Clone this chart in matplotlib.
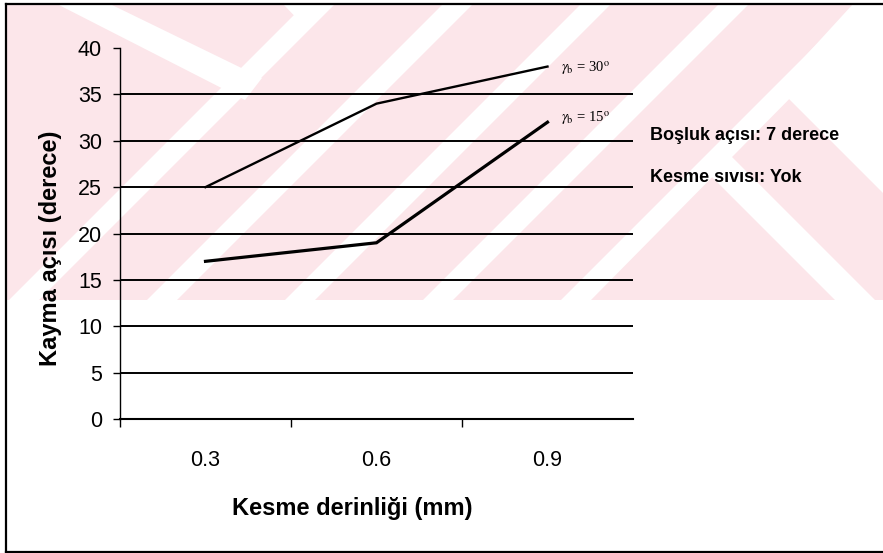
import matplotlib
matplotlib.use("Agg")
import matplotlib.pyplot as plt
from matplotlib.patches import Polygon
from matplotlib.lines import Line2D
import numpy as np

# ---- data ----
depths = ["0.3", "0.6", "0.9"]            # Kesme derinliği (mm)
shear_rake30 = [25, 34, 38]               # γb = 30°
shear_rake15 = [17, 19, 32]               # γb = 15°
y_ticks = [0, 5, 10, 15, 20, 25, 30, 35, 40]

W, H = 883, 553
fig = plt.figure(figsize=(W / 100, H / 100), dpi=100)
fig.patch.set_facecolor("white")

SANS = ["Liberation Sans", "DejaVu Sans"]
plt.rcParams["mathtext.fontset"] = "stix"


def fxy(x, y):
    """pixel position (origin top-left) -> figure fraction"""
    return (x / W, 1 - y / H)


# ---- faint background emblem ----
pink = "#fce6ea"
band_top, band_bot = 4, 300
fig.patches.append(Polygon([fxy(6, band_top), fxy(W, band_top), fxy(W, band_bot), fxy(6, band_bot)],
                           closed=True, transform=fig.transFigure, facecolor=pink,
                           edgecolor="none", zorder=0))
white_shapes = []
for c in [24, 162, 300, 438, 576]:
    dx = band_bot - band_top
    white_shapes.append([(c - 15, band_bot), (c + 15, band_bot),
                         (c + 15 + dx, band_top), (c - 15 + dx, band_top)])
white_shapes += [
    [(283, 4), (308, 30), (333, 4)],
    [(57, 4), (110, 4), (262, 78), (245, 100)],
    [(853, 4), (777, 87), (883, 193), (883, 4)],
    [(700, 165), (725, 150), (875, 300), (835, 300)],
]
for poly in white_shapes:
    pts = [fxy(max(6, min(W, x)), y) for x, y in poly]
    fig.patches.append(Polygon(pts, closed=True, transform=fig.transFigure,
                               facecolor="white", edgecolor="none", zorder=0.5))

# ---- outer frame (left, top, bottom) ----
for xs, ys in [((6, 6), (4, 552)), ((6, W), (4, 4)), ((6, W), (552, 552))]:
    p0, p1 = fxy(xs[0], ys[0]), fxy(xs[1], ys[1])
    fig.lines.append(Line2D([p0[0], p1[0]], [p0[1], p1[1]], transform=fig.transFigure,
                            color="black", lw=1.6, zorder=3))

# ---- chart ----
ax = fig.add_axes([120 / W, 1 - 419 / H, 513 / W, 371 / H])
ax.patch.set_alpha(0)
ax.set_zorder(2)
ax.set_xlim(0, len(depths))
ax.set_ylim(0, 40)

for v in y_ticks[1:-1]:
    ax.axhline(v, color="black", lw=1.4, zorder=1)

x = np.arange(len(depths)) + 0.5
ax.plot(x, shear_rake30, color="black", lw=1.7, zorder=3, solid_joinstyle="miter")
ax.plot(x, shear_rake15, color="black", lw=2.3, zorder=3, solid_joinstyle="miter")

for s in ["top", "right"]:
    ax.spines[s].set_visible(False)
ax.spines["left"].set_linewidth(1.0)
ax.spines["bottom"].set_linewidth(1.5)

ax.set_yticks(y_ticks)
ax.set_yticklabels([str(v) for v in y_ticks], fontsize=15.5, family=SANS)
ax.tick_params(axis="y", direction="out", length=5, width=1.0, pad=8)

ax.set_xticks(np.arange(len(depths)))
ax.set_xticklabels([])
ax.tick_params(axis="x", which="major", direction="out", length=6, width=1.0)
ax.set_xticks(x, minor=True)
ax.set_xticklabels(depths, minor=True, fontsize=15.5, family=SANS)
ax.tick_params(axis="x", which="minor", length=0, pad=22)

# axis titles
fig.text(*fxy(352, 509), "Kesme derinliği (mm)", ha="center", va="center",
         fontsize=17, fontweight="bold", family=SANS)
fig.text(*fxy(51, 248), "Kayma açısı (derece)", ha="center", va="center",
         rotation=90, fontsize=17, fontweight="bold", family=SANS)

# series labels
ax.annotate(r"$\gamma_{\rm b}$ = 30$^{\rm o}$", xy=(x[-1], shear_rake30[-1]),
            xytext=(10, -1), textcoords="offset points", ha="left", va="center",
            fontsize=10.5, family=["Liberation Serif"])
ax.annotate(r"$\gamma_{\rm b}$ = 15$^{\rm o}$", xy=(x[-1], shear_rake15[-1]),
            xytext=(10, 3), textcoords="offset points", ha="left", va="center",
            fontsize=10.5, family=["Liberation Serif"])

# test conditions
fig.text(*fxy(650, 136), "Boşluk açısı: 7 derece", ha="left", va="center",
         fontsize=13, fontweight="bold", family=SANS)
fig.text(*fxy(650, 177), "Kesme sıvısı: Yok", ha="left", va="center",
         fontsize=13, fontweight="bold", family=SANS)

fig.savefig("out.png", dpi=100, facecolor="white")
